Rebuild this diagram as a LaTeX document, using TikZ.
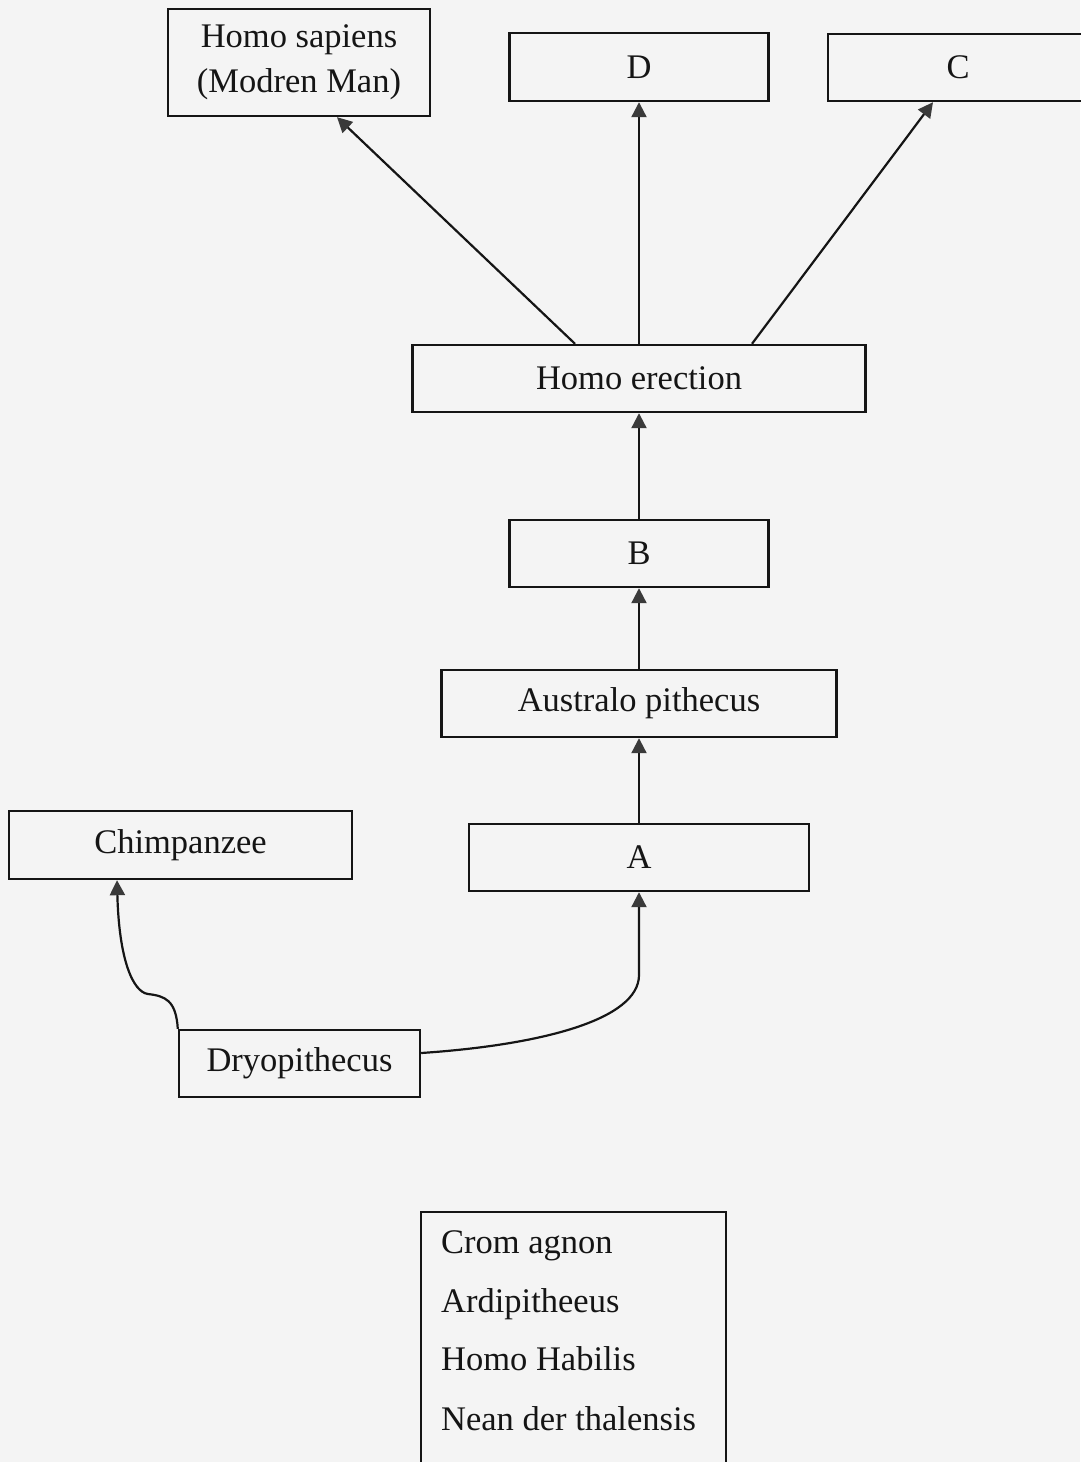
\documentclass[tikz,border=0pt]{standalone}
\usepackage{fontspec}
\setmainfont{Liberation Serif}
\usetikzlibrary{arrows.meta}
\definecolor{paper}{HTML}{F4F4F4}
\definecolor{ink}{HTML}{151515}
\definecolor{arrgray}{HTML}{3A3A3A}
\tikzset{
  box/.style={draw=ink, line width=2.4pt, rectangle, inner sep=0pt, align=center,
              font=\fontsize{34.5}{45}\selectfont, text=ink},
  listtext/.style={anchor=base west, inner sep=0pt, font=\fontsize{34.5}{45}\selectfont, text=ink},
  arr/.style={draw=ink, line width=2.2pt, -{Triangle[length=15pt,width=15pt,color=arrgray]}}
}
\begin{document}
\begin{tikzpicture}[x=1pt,y=-1pt]
\fill[paper] (0,0) rectangle (1080,1462);
\useasboundingbox (0,0) rectangle (1080,1462);
% boxes
\node[box, minimum width=262, minimum height=107] (hs) at (299,62.5) {Homo sapiens\\(Modren Man)};
\node[box, minimum width=259, minimum height=68] (d) at (639,67) {D};
\node[box, minimum width=260, minimum height=67] (c) at (958,67.5) {C};
\node[box, minimum width=453, minimum height=67] (he) at (639,378.5) {Homo erection};
\node[box, minimum width=259, minimum height=67] (b) at (639,553.5) {B};
\node[box, minimum width=395, minimum height=67] (au) at (639,703.5) {Australo pithecus};
\node[box, minimum width=343, minimum height=68] (ch) at (180.5,845) {Chimpanzee};
\node[box, minimum width=340, minimum height=67] (a) at (639,857.5) {A};
\node[box, minimum width=241, minimum height=67] (dr) at (299.5,1063.5) {Dryopithecus};
\node[box, minimum width=305, minimum height=290, anchor=north west] (lst) at (420,1211) {};
\node[listtext] (l1) at (441,1253) {Crom agnon};
\node[listtext] (l2) at (441,1312) {Ardipitheeus};
\node[listtext] (l3) at (441,1370) {Homo Habilis};
\node[listtext] (l4) at (441,1430) {Nean der thalensis};
% connectors
\draw[arr] ([xshift=-64pt]he.north) -- ([xshift=38pt]hs.south);
\draw[arr] (he.north) -- (d.south);
\draw[arr] ([xshift=113pt]he.north) -- ([xshift=-25pt]c.south);
\draw[arr] (b.north) -- (he.south);
\draw[arr] (au.north) -- (b.south);
\draw[arr] (a.north) -- (au.south);
\draw[arr] ([yshift=10.5pt]dr.east) .. controls (540,1045) and (639,1020) .. (639,975) -- (a.south);
\draw[arr] (dr.north west) .. controls (176,1000) and (165,996) .. (148,994)
   .. controls (133,992) and (119,960) .. ([xshift=-63.5pt]ch.south);
\end{tikzpicture}
\end{document}
